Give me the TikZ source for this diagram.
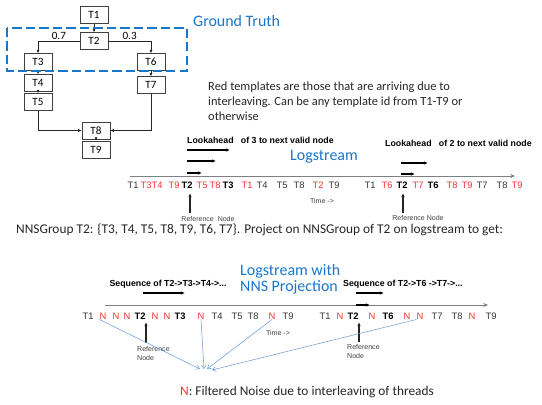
\documentclass[tikz,border=0pt]{standalone}
\usepackage{fontspec}
\setmainfont{Carlito}
\newfontfamily\arialfont{Liberation Sans}
\usetikzlibrary{arrows.meta, positioning}
\definecolor{noisered}{RGB}{250,50,50}
\definecolor{titleblue}{RGB}{25,118,205}
\definecolor{noiseblue}{RGB}{110,155,215}

\begin{document}
\begin{tikzpicture}[x=0.03cm, y=-0.03cm, >=Stealth, thin]
        % Estilos para cajas, tokens y flechas
        \tikzstyle{block} = [draw=black!75, rectangle, line width=0.5pt, minimum width=0.84cm, minimum height=0.5cm, inner sep=0pt, font=\fontsize{9.5}{10}\selectfont]
        \tikzstyle{edge} = [draw=black!85, line width=0.5pt, -{Latex[length=3pt, width=2.6pt]}]
        \tikzstyle{tok} = [inner sep=0pt, font=\arialfont\fontsize{8}{9}\selectfont, text=black!80]
        \tikzstyle{tk} = [tok]
        \tikzstyle{tr} = [tok, text=noisered]
        \tikzstyle{tb} = [tok, font=\arialfont\bfseries\fontsize{8}{9}\selectfont, text=black]
        \tikzstyle{axis} = [draw=black!50, line width=0.7pt, -{Stealth[length=4pt, width=3.5pt]}]
        \tikzstyle{look} = [draw=black, line width=0.9pt, -{Latex[length=3.5pt, width=3pt]}]
        \tikzstyle{refarrow} = [draw=black!85, line width=1pt, -{Latex[length=3.5pt, width=3pt]}]
        \tikzstyle{small} = [inner sep=0pt, font=\arialfont\fontsize{6}{7.7}\selectfont, text=black!75]
        \tikzstyle{note} = [inner sep=0pt, font=\arialfont\bfseries\fontsize{7.5}{8}\selectfont]
        \tikzstyle{body} = [inner sep=0pt, font=\fontsize{11.4}{12.8}\selectfont, text=black!85]
        \tikzstyle{title} = [inner sep=0pt, font=\fontsize{13.6}{13.7}\selectfont, text=titleblue]
        \tikzstyle{noise} = [draw=noiseblue, line width=0.45pt, -{Straight Barb[length=3pt, width=4pt]}]

        \useasboundingbox (0,0) rectangle (542,405);

        % Grafo de plantillas
        \node [block] at (94,15) (t1) {T1};
        \node [block] at (94,41) (t2) {T2};
        \node [block] at (38,62) (t3) {T3};
        \node [block, on grid, below=0.63cm of t3] (t4) {T4};
        \node [block, on grid, below=0.57cm of t4] (t5) {T5};
        \node [block] at (151,62) (t6) {T6};
        \node [block, on grid, below=0.69cm of t6] (t7) {T7};
        \node [block] at (96,130.5) (t8) {T8};
        \node [block, on grid, below=0.57cm of t8] (t9) {T9};

        \draw [edge] (t1) -- (t2);
        \draw [edge] (t2.west) -| node [pos=0.25, above, inner sep=1pt, font=\fontsize{9.5}{10}\selectfont] {0.7} (t3.north);
        \draw [edge] (t2.east) -| node [pos=0.25, above, inner sep=1pt, font=\fontsize{9.5}{10}\selectfont] {0.3} (t6.north);
        \draw [edge] (t3) -- (t4);
        \draw [edge] (t4) -- (t5);
        \draw [edge] (t6) -- (t7);
        \draw [edge] (t5.south) |- (t8.west);
        \draw [edge] (t7.south) |- (t8.east);
        \draw [edge] (t8) -- (t9);

        \draw [titleblue, line width=1.4pt, dash pattern=on 8pt off 3.5pt] (7,28) rectangle (187,71);
        \node [title, anchor=west] at (193,21) (gtruth) {Ground Truth};

        \node [body, anchor=west, align=left, font=\fontsize{10.6}{12.8}\selectfont] at (208,101) (redNote) {Red templates are those that are arriving due to\\interleaving. Can be any template id from T1-T9 or\\otherwise};

        % Logstream original
        \node [note, anchor=west] at (187,140) (look3) {Lookahead\ \ \ of 3 to next valid node};
        \node [note, anchor=west] at (385,143) (look2) {Lookahead\ \ \ of 2 to next valid node};
        \node [title] at (324,157) (logA) {Logstream};

        \coordinate (la1) at (187,150); \coordinate (lb1) at (230,150);
        \coordinate (la2) at (187,161); \coordinate (lb2) at (216,161);
        \coordinate (la3) at (187,173); \coordinate (lb3) at (202,173);
        \coordinate (la4) at (401,163); \coordinate (lb4) at (428,163);
        \coordinate (la5) at (401,174); \coordinate (lb5) at (415,174);
        \coordinate (axA1) at (130,176); \coordinate (axA2) at (515,176);

        \draw [axis] (axA1) -- (axA2);
        \draw [look] (la1) -- (lb1);
        \draw [look] (la2) -- (lb2);
        \draw [look] (la3) -- (lb3);
        \draw [look] (la4) -- (lb4);
        \draw [look] (la5) -- (lb5);

        \foreach \x/\t/\s [count=\i] in {133/T1/tk, 146/T3/tr, 157/T4/tr, 174/T9/tr, 187/T2/tb, 202/T5/tr, 215/T8/tr, 228/T3/tb, 247/T1/tr, 262/T4/tk, 282/T5/tk, 299/T8/tk, 318/T2/tr, 334/T9/tk, 370/T1/tk, 387/T6/tr, 402/T2/tb, 418/T7/tr, 433/T6/tb, 452/T8/tr, 467/T9/tr, 482/T7/tk, 502/T8/tk, 517/T9/tr}
          \node [\s] (a\i) at (\x,185) {\t};

        \node [small] at (322,201) (timeA) {Time ->};
        \node [small] at (208,219) (refA) {Reference\ \ Node};
        \node [small] at (418,218) (refB) {Reference Node};
        \coordinate (ra1) at (190,213); \coordinate (rb1) at (190,193);
        \coordinate (ra2) at (403,213); \coordinate (rb2) at (403,193);
        \draw [refarrow] (ra1) -- (rb1);
        \draw [refarrow] (ra2) -- (rb2);

        \node [body, anchor=west] at (16,230) (nnsLine) {NNSGroup T2: \{T3, T4, T5, T8, T9, T6, T7\}. Project on NNSGroup of T2 on logstream to get:};

        % Logstream proyectado
        \node [title, anchor=west, align=left] at (240,279) (logB) {Logstream with\\NNS Projection};
        \node [note] at (168,284) (seq1) {Sequence of T2->T3->T4->...};
        \node [note, anchor=west] at (343,284) (seq2) {Sequence of T2->T6 ->T7->...};

        \coordinate (sa1) at (143,293); \coordinate (sb1) at (185,293);
        \coordinate (sa2) at (356,293); \coordinate (sb2) at (384,293);
        \coordinate (sa3) at (356,305); \coordinate (sb3) at (370,305);
        \coordinate (axB1) at (105,305); \coordinate (axB2) at (488,305);

        \draw [axis] (axB1) -- (axB2);
        \draw [look] (sa1) -- (sb1);
        \draw [look] (sa2) -- (sb2);
        \draw [look] (sa3) -- (sb3);

        \foreach \x/\t/\s [count=\i] in {88/T1/tk, 103/N/tr, 116/N/tr, 127/N/tr, 140/T2/tb, 155/N/tr, 167/N/tr, 180/T3/tb, 201/N/tr, 217/T4/tk, 237/T5/tk, 253/T8/tk, 272/N/tr, 288/T9/tk, 325/T1/tk, 340/N/tr, 353/T2/tb, 372/N/tr, 388/T6/tb, 407/N/tr, 420/N/tr, 437/T7/tk, 457/T8/tk, 472/N/tr, 491/T9/tk}
          \node [\s] (b\i) at (\x,316) {\t};

        \node [small] at (278,333) (timeB) {Time ->};
        \node [small, anchor=north west, align=left] at (137,346) (refC) {Reference\\Node};
        \node [small, anchor=north west, align=left] at (347,344) (refD) {Reference\\Node};
        \coordinate (ra3) at (146,343); \coordinate (rb3) at (146,322);
        \coordinate (ra4) at (359,342); \coordinate (rb4) at (359,322);
        \draw [refarrow] (ra3) -- (rb3);
        \draw [refarrow] (ra4) -- (rb4);

        % Flechas del ruido filtrado
        \coordinate (n1) at (200,369);
        \coordinate (n2) at (204,369);
        \coordinate (n3) at (207,369);
        \coordinate (n4) at (212,370);
        \draw [noise] (b2.south west) -- (n1);
        \draw [noise] (b9.south) -- (n2);
        \draw [noise] (b13.south) -- (n3);
        \draw [noise] (b21.south west) -- (n4);

        \node [body] at (307,392) (legend) {\textcolor{noisered}{N}: Filtered Noise due to interleaving of threads};

      \end{tikzpicture}
\end{document}
